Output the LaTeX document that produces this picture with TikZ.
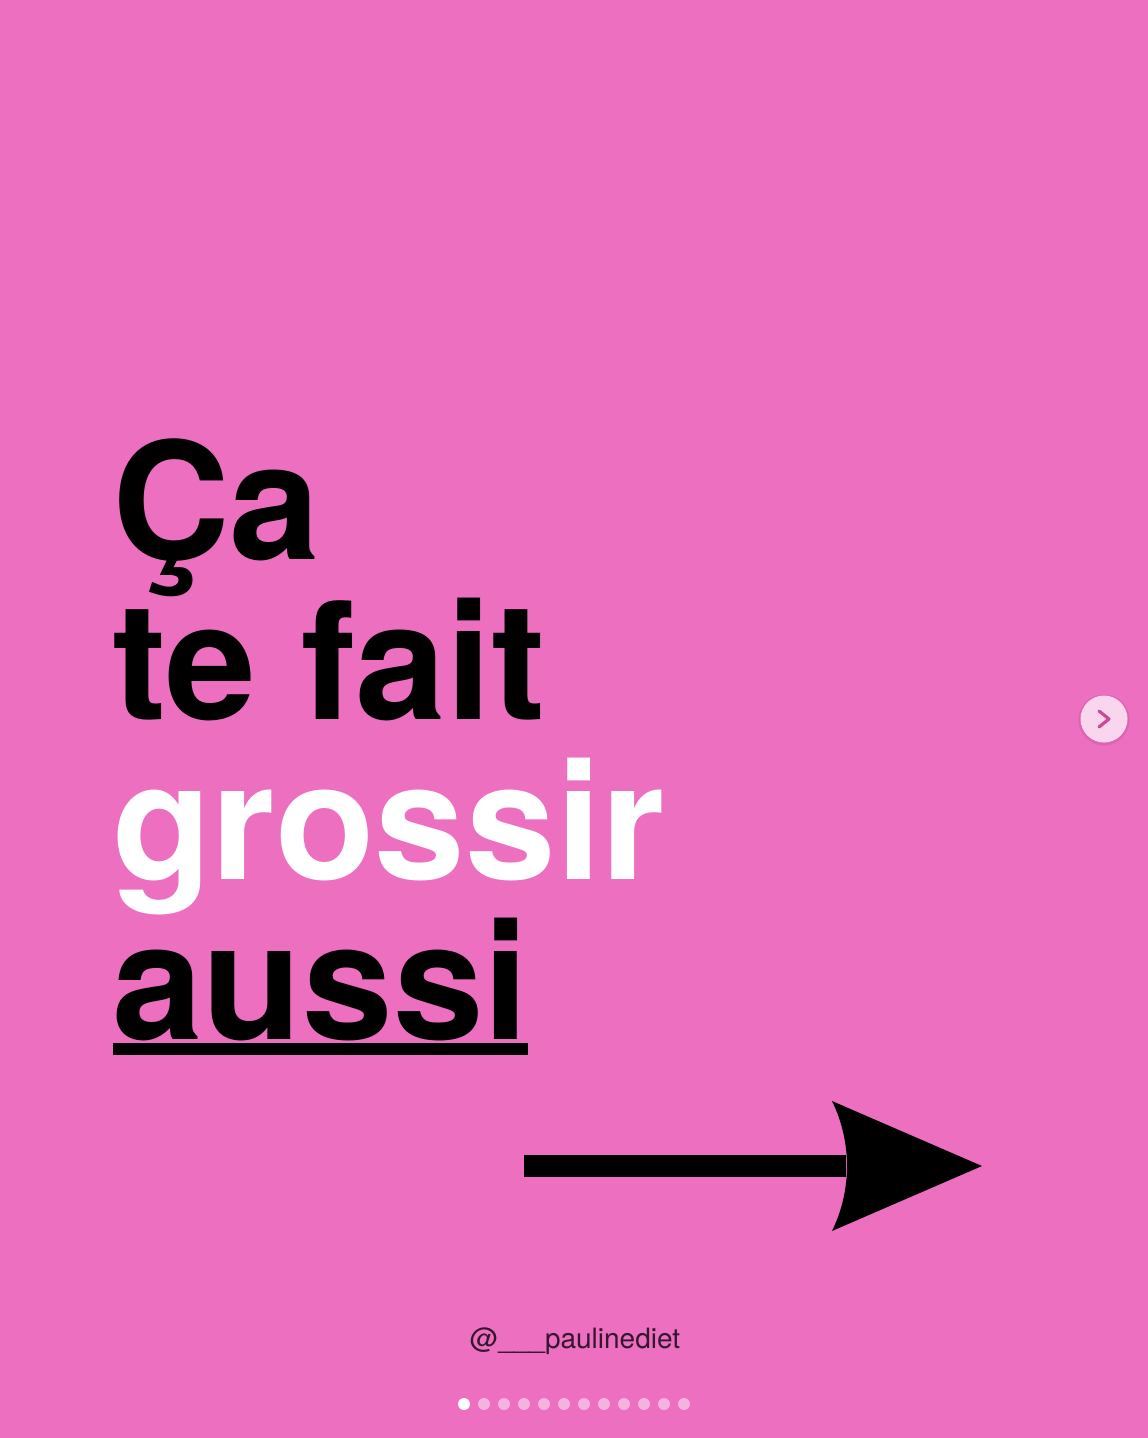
\documentclass[tikz,border=0pt]{standalone}
\usepackage{fontspec}
\setmainfont{TeX Gyre Heros}
\definecolor{bgpink}{RGB}{237,111,191}
\definecolor{handle}{RGB}{52,22,46}
\definecolor{dotpink}{RGB}{245,178,222}
\definecolor{btnfill}{RGB}{250,214,238}
\definecolor{chev}{RGB}{205,72,155}
\tikzset{
  bigtext/.style={anchor=base west, inner sep=0pt, font=\fontsize{163}{160}\selectfont\bfseries},
  dotstyle/.style={circle, inner sep=0pt, minimum size=12pt, fill=dotpink},
}
\begin{document}
\begin{tikzpicture}[x=1pt,y=-1pt]
\fill[bgpink] (0,0) rectangle (1148,1438);
\useasboundingbox (0,0) rectangle (1148,1438);
% main text
\node[bigtext, text=black] (l1) at (112,559) {Ça};
\node[bigtext, text=black] (l2) at (112,719) {te fait};
\node[bigtext, text=white] (l3) at (112,879) {grossir};
\node[bigtext, text=black] (l4) at (112,1039) {aussi};
\fill[black] (113,1043) rectangle (528,1055);
% arrow
\fill[black] (524,1155) rectangle (846,1177);
\fill[black] (832,1101) -- (982,1166) -- (832,1231) .. controls (852,1190) and (852,1142) .. (832,1101) -- cycle;
% next button
\fill[black, opacity=0.08] (1104,720) circle (25.5);
\node[circle, fill=btnfill, minimum size=47pt, inner sep=0pt] (btn) at (1104,719) {};
\draw[chev, line width=3.2pt, line cap=round, line join=round] (1099,711) -- (1109,719) -- (1099,727);
% handle
\node[anchor=base, inner sep=0pt, text=handle, font=\fontsize{28}{30}\selectfont] (hdl) at (575,1348) {@\_\_\_paulinediet};
% pager dots
\node[dotstyle, fill=white] (d0) at (464,1404) {};
\foreach \i in {1,...,11} {
  \node[dotstyle] (d\i) at ({464+20*\i},1404) {};
}
\end{tikzpicture}
\end{document}
